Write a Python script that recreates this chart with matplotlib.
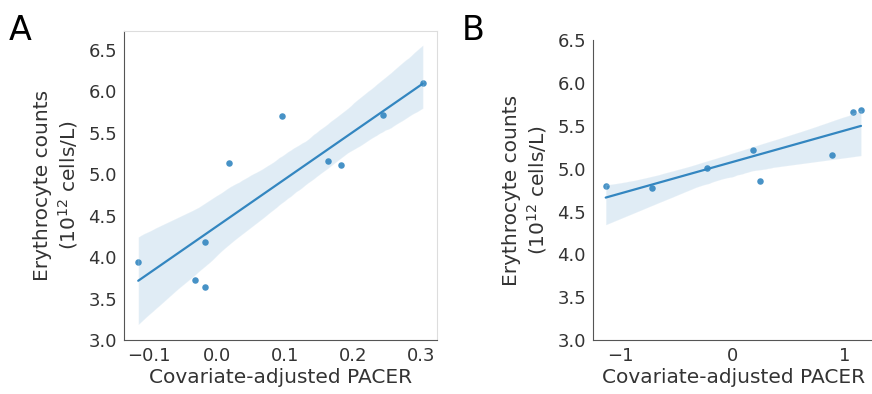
import numpy as np
import matplotlib
matplotlib.use("Agg")
import matplotlib.pyplot as plt
import seaborn as sns

# Panel A data
pacer_a = [-0.116, -0.033, -0.017, -0.017, 0.018, 0.095, 0.164, 0.183, 0.245, 0.303]
eryth_a = [3.94, 3.73, 3.64, 4.18, 5.14, 5.70, 5.16, 5.11, 5.72, 6.10]

# Panel B data
pacer_b = [-1.13, -0.72, -0.23, 0.18, 0.245, 0.89, 1.07, 1.145]
eryth_b = [4.80, 4.77, 5.01, 5.22, 4.86, 5.16, 5.66, 5.68]

yticks = [3.0, 3.5, 4.0, 4.5, 5.0, 5.5, 6.0, 6.5]
ylabel = "Erythrocyte counts\n($10^{12}$ cells/L)"
xlabel = "Covariate-adjusted PACER"

sns.set_style("white")
plt.rcParams['font.family'] = ['DejaVu Sans']

color = '#3386c0'
fig = plt.figure(figsize=(8.72, 3.94), dpi=100)

# --- Panel A
axA = fig.add_axes([0.1422, 0.137, 0.359, 0.784])
sns.regplot(x=np.array(pacer_a), y=np.array(eryth_a), ax=axA, color=color,
            scatter_kws={'s': 22, 'linewidths': 0, 'alpha': 0.9}, line_kws={'lw': 1.6}, seed=3)
axA.set_yticks(yticks)
axA.set_xticks([-0.1, 0.0, 0.1, 0.2, 0.3])
for side in ['left', 'bottom']:
    axA.spines[side].set_color('#555555')
for side in ['top', 'right']:
    axA.spines[side].set_color('#dddddd')

# --- Panel B
axB = fig.add_axes([0.680, 0.137, 0.322, 0.761])
sns.regplot(x=np.array(pacer_b), y=np.array(eryth_b), ax=axB, color=color,
            scatter_kws={'s': 22, 'linewidths': 0, 'alpha': 0.9}, line_kws={'lw': 1.6}, seed=11)
axB.set_ylim(3.0, 6.5)
axB.set_yticks(yticks)
axB.set_xticks([-1, 0, 1])
sns.despine(ax=axB)
for side in ['left', 'bottom']:
    axB.spines[side].set_color('#555555')

for ax in [axA, axB]:
    ax.set_xlabel(xlabel, fontsize=14.5, color='#333333', labelpad=2)
    ax.set_ylabel(ylabel, fontsize=14.5, color='#333333', labelpad=6)
    ax.tick_params(axis='both', labelsize=13, colors='#333333', length=0, pad=5)

fig.text(0.010, 0.965, "A", fontsize=24, va='top', ha='left', color='black')
fig.text(0.529, 0.965, "B", fontsize=24, va='top', ha='left', color='black')

fig.savefig("out.png", dpi=100)
